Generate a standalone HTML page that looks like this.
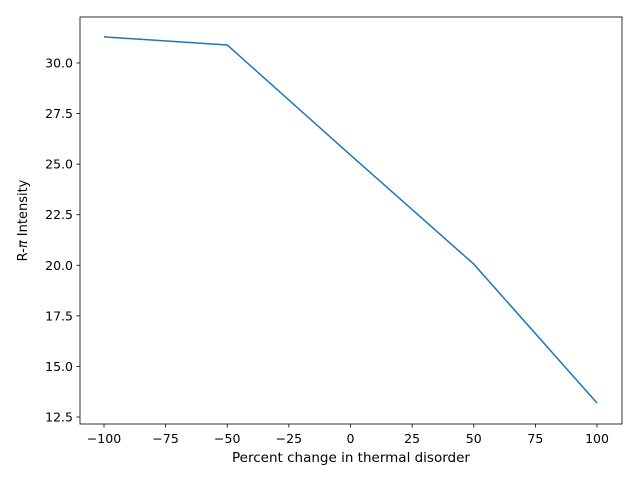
<!DOCTYPE html>
<html><head><meta charset="utf-8"><style>body{margin:0;background:#fff}svg{font-family:"DejaVu Sans","Liberation Sans",sans-serif}</style></head>
<body>
<svg id="chart" width="640" height="480"></svg>
<script>
const xValues = [-100, -50, 0, 50, 100];
const yValues = [31.29, 30.89, 25.45, 20.06, 13.19];
const xTicks = [-100, -75, -50, -25, 0, 25, 50, 75, 100];
const yTicks = [12.5, 15.0, 17.5, 20.0, 22.5, 25.0, 27.5, 30.0];
const xTickLabels = ["\u2212100","\u221275","\u221250","\u221225","0","25","50","75","100"];
const yTickLabels = ["12.5","15.0","17.5","20.0","22.5","25.0","27.5","30.0"];
const L=80,R=622,T=17,B=424;
const sx=v=>104+(v+100)*(597-104)/200;
const sy=v=>63+(30-v)*(417-63)/17.5;
const NS="http://www.w3.org/2000/svg";
const svg=document.getElementById('chart');
function mk(t,a){const e=document.createElementNS(NS,t);for(const k in a)e.setAttribute(k,a[k]);svg.appendChild(e);return e;}
const frame=mk('rect',{x:L,y:T,width:R-L,height:B-T,fill:'none',stroke:'#000','stroke-width':0.8});


xTicks.forEach((v,i)=>{const x=sx(v);
 const t=mk('line',{x1:x,x2:x,y1:B,y2:B+3.5,stroke:'#000','stroke-width':0.8});
 
 
 const l=mk('text',{x:x,y:B+19,'text-anchor':'middle','font-size':12.5});l.textContent=xTickLabels[i];
 
 });
yTicks.forEach((v,i)=>{const y=sy(v);
 const t=mk('line',{x1:L-3.5,x2:L,y1:y,y2:y,stroke:'#000','stroke-width':0.8});
 
 
 const l=mk('text',{x:L-7,y:y+4.5,'text-anchor':'end','font-size':12.5});l.textContent=yTickLabels[i];
 
 });
const line=mk('polyline',{points:xValues.map((v,i)=>sx(v)+','+sy(yValues[i])).join(' '),fill:'none',stroke:'#1f77b4','stroke-width':1.5});


const xt=mk('text',{x:(L+R)/2,y:462,'text-anchor':'middle','font-size':13.5});xt.textContent='Percent change in thermal disorder';


const yt=mk('text',{x:0,y:0,'text-anchor':'middle','font-size':13,transform:'translate(27,'+((T+B)/2)+') rotate(-90)'});yt.innerHTML='R-<tspan font-style="italic">π</tspan> Intensity';


</script>
</body></html>
